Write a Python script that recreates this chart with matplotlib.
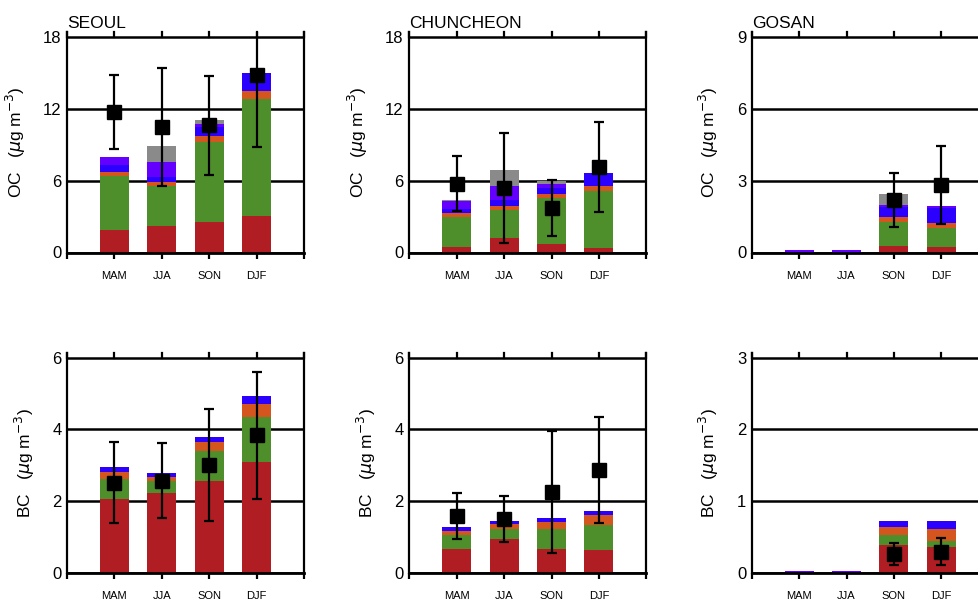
import matplotlib
matplotlib.use("Agg")
import matplotlib.pyplot as plt
import numpy as np

plt.rcParams['font.family'] = ['Liberation Sans', 'DejaVu Sans']

seasons = ['MAM', 'JJA', 'SON', 'DJF']
sites = ['SEOUL', 'CHUNCHEON', 'GOSAN']
colors = ['#b01e23', '#4e8f2b', '#d4561e', '#2b00ff', '#6400ff', '#8a8a8a']

# OC stacked contributions (red, green, orange, blue, purple, gray) per season
oc_seoul = [[1.90, 2.23, 2.51, 3.07],
            [4.46, 3.30, 6.70, 9.71],
            [0.34, 0.33, 0.50, 0.70],
            [0.64, 0.48, 0.76, 1.48],
            [0.59, 1.17, 0.28, 0.00],
            [0.00, 1.37, 0.27, 0.00]]
oc_chuncheon = [[0.50, 1.18, 0.67, 0.39],
                [2.50, 2.40, 3.87, 4.71],
                [0.28, 0.28, 0.33, 0.42],
                [0.33, 0.54, 0.53, 1.09],
                [0.65, 1.12, 0.28, 0.00],
                [0.08, 1.34, 0.31, 0.00]]
oc_gosan = [[0.00, 0.00, 0.28, 0.24],
            [0.00, 0.00, 1.01, 0.80],
            [0.00, 0.00, 0.21, 0.21],
            [0.00, 0.00, 0.39, 0.61],
            [0.10, 0.10, 0.11, 0.06],
            [0.00, 0.00, 0.44, 0.00]]

# BC stacked contributions (red, green, orange, blue, purple)
bc_seoul = [[2.08, 2.23, 2.56, 3.09],
            [0.54, 0.34, 0.85, 1.27],
            [0.19, 0.11, 0.24, 0.35],
            [0.15, 0.10, 0.14, 0.23],
            [0.00, 0.00, 0.00, 0.00]]
bc_chuncheon = [[0.68, 0.94, 0.68, 0.66],
                [0.39, 0.30, 0.56, 0.69],
                [0.12, 0.12, 0.20, 0.26],
                [0.11, 0.10, 0.11, 0.13],
                [0.00, 0.00, 0.00, 0.00]]
bc_gosan = [[0.00, 0.00, 0.40, 0.36],
            [0.00, 0.00, 0.13, 0.09],
            [0.00, 0.00, 0.12, 0.17],
            [0.00, 0.00, 0.08, 0.11],
            [0.03, 0.03, 0.00, 0.00]]

# observed means and standard deviations
oc_obs_mean = [[11.70, 10.47, 10.60, 14.79],
               [5.74, 5.38, 3.70, 7.14],
               [np.nan, np.nan, 2.20, 2.83]]
oc_obs_std = [[3.10, 4.95, 4.10, 6.00],
              [2.30, 4.62, 2.33, 3.75],
              [np.nan, np.nan, 1.13, 1.63]]
bc_obs_mean = [[2.52, 2.58, 3.01, 3.84],
               [1.59, 1.51, 2.26, 2.86],
               [np.nan, np.nan, 0.27, 0.30]]
bc_obs_std = [[1.125, 1.045, 1.56, 1.76],
              [0.63, 0.645, 1.695, 1.475],
              [np.nan, np.nan, 0.15, 0.19]]

oc_ymax = [18, 18, 9]
bc_ymax = [6, 6, 3]

fig = plt.figure(figsize=(9.79, 6.03), dpi=100)

lefts = [67 / 979, 409.3 / 979, 751.7 / 979]
bottoms = [1 - 252.5 / 603, 1 - 573.3 / 603]
w = 237 / 979
h = 220.5 / 603

rows = [('OC', [oc_seoul, oc_chuncheon, oc_gosan], oc_obs_mean, oc_obs_std, oc_ymax),
        ('BC', [bc_seoul, bc_chuncheon, bc_gosan], bc_obs_mean, bc_obs_std, bc_ymax)]

x = np.arange(1, 5)
for r, (spec, stacks, means, stds, ymaxes) in enumerate(rows):
    for c in range(3):
        ax = fig.add_axes([lefts[c], bottoms[r], w, h])
        ax.set_axisbelow(True)
        comps = np.array(stacks[c])
        base = np.zeros(4)
        for k, comp in enumerate(comps):
            ax.bar(x, comp, bottom=base, width=0.61, color=colors[k], linewidth=0, zorder=1)
            base = base + comp
        ax.errorbar(x, means[c], yerr=stds[c], fmt='s', color='black', ms=10.5,
                    elinewidth=1.6, capsize=3.6, capthick=1.6, zorder=4)
        ym = ymaxes[c]
        ytop = ym * 1.022
        ax.set_ylim(0, ytop)
        ax.set_yticks(np.linspace(0, ym, 4))
        ax.set_yticklabels([str(int(v)) for v in np.linspace(0, ym, 4)], fontsize=12)
        ax.tick_params(axis='y', length=0, pad=4)
        ax.grid(axis='y', color='black', linewidth=1.8)
        ax.set_xlim(0, 5)
        ax.set_xticks(range(6))
        ax.set_xticklabels([''] + seasons + [''], fontsize=8)
        ax.tick_params(axis='x', bottom=True, top=False, direction='out',
                       length=4, width=1.6, pad=9)
        # short inward ticks along the (hidden) top edge
        for t in ax.get_xticks():
            ax.plot([t, t], [ytop, ym], color='black', lw=1.6, zorder=5, clip_on=False)
        ax.spines['top'].set_visible(False)
        ax.spines['bottom'].set_linewidth(2.0)
        ax.spines['left'].set_linewidth(1.6)
        ax.spines['right'].set_linewidth(1.6)
        ax.spines['bottom'].set_zorder(3)
        ax.set_ylabel(spec + r'   ($\mu$g m$^{-3}$)', fontsize=12.5, labelpad=11)
        if r == 0:
            ax.set_title(sites[c], loc='left', fontsize=12.5, pad=3)

fig.savefig('out.png', dpi=100)
